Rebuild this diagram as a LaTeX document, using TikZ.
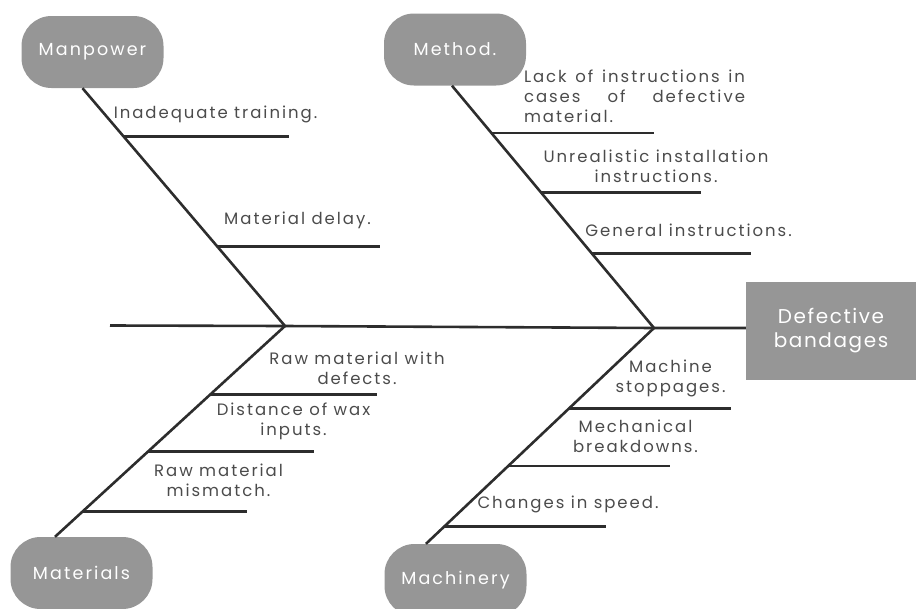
\documentclass[tikz,border=0pt]{standalone}
\usepackage{fontspec}
\setmainfont{Poppins}
\newfontfamily\lblfont{Poppins}[LetterSpace=12]
\newfontfamily\boxfont{Poppins}[LetterSpace=8]
\usetikzlibrary{calc}
\definecolor{pillgray}{RGB}{150,150,150}
\definecolor{txtgray}{RGB}{75,75,75}
\definecolor{linegray}{RGB}{45,45,45}
\begin{document}
\begin{tikzpicture}[x=1pt,y=-1pt,
  pill/.style={fill=pillgray, rounded corners=30pt, minimum width=142pt, minimum height=72pt, text=white, font=\lblfont\fontsize{17.5}{20}\selectfont, inner sep=0pt},
  effectbox/.style={fill=pillgray, minimum width=170pt, minimum height=98pt, text=white, font=\boxfont\fontsize{20}{24}\selectfont, align=center, inner sep=0pt},
  lbl/.style={text=txtgray, font=\lblfont\fontsize{16.5}{20}\selectfont, align=center, inner sep=0pt},
  bone/.style={draw=linegray, line width=2.6pt},
  rib/.style={draw=linegray, line width=2.6pt}]
\useasboundingbox (0,0) rectangle (916,608);
\clip (0,0) rectangle (916,608);
% category pills and effect
\node[pill] (mp) at (92.5,52) {Manpower};
\node[pill] (meth) at (455,49.5) {Method.};
\node[pill] (mat) at (81.5,573) {Materials};
\node[pill] (mach) at (455.5,580) {Machinery};
\node[effectbox] (effect) at (831,331) {Defective\\bandages};
% spine
\coordinate (tail) at (110,325.5);
\coordinate (j1) at (285,326);
\coordinate (j2) at (654,328);
\draw[bone] (tail) -- (j1) -- (j2) -- (j2 -| effect.west);
% bones
\coordinate (a1) at ([xshift=-10pt]mp.south);
\coordinate (a2) at ([xshift=-3pt]meth.south);
\coordinate (a3) at ([xshift=-26.5pt]mat.north);
\coordinate (a4) at ([xshift=-29.5pt]mach.north);
\draw[bone] (a1) -- (j1);
\draw[bone] (a2) -- (j2);
\draw[bone] (j1) -- (a3);
\draw[bone] (j2) -- (a4);
% ribs: Manpower
\coordinate (r11) at ($(a1)!0.2025!(j1)$);
\coordinate (e11) at (289,137);
\coordinate (r12) at ($(a1)!0.6667!(j1)$);
\coordinate (e12) at (380,247);
\draw[rib] (r11) -- (r11 -| e11);
\draw[rib] (r12) -- (r12 -| e12);
% ribs: Method
\coordinate (r21) at ($(a2)!0.1958!(j2)$);
\coordinate (e21) at (654,135);
\coordinate (r22) at ($(a2)!0.4417!(j2)$);
\coordinate (e22) at (701,194);
\coordinate (r23) at ($(a2)!0.6917!(j2)$);
\coordinate (e23) at (751,254);
\draw[rib] (r21) -- (r21 -| e21);
\draw[rib] (r22) -- (r22 -| e22);
\draw[rib] (r23) -- (r23 -| e23);
% ribs: Materials
\coordinate (r31) at ($(j1)!0.3238!(a3)$);
\coordinate (e31) at (377,394);
\coordinate (r32) at ($(j1)!0.5952!(a3)$);
\coordinate (e32) at (314,451);
\coordinate (r33) at ($(j1)!0.8810!(a3)$);
\coordinate (e33) at (247,511);
\draw[rib] (r31) -- (r31 -| e31);
\draw[rib] (r32) -- (r32 -| e32);
\draw[rib] (r33) -- (r33 -| e33);
% ribs: Machinery
\coordinate (r41) at ($(j2)!0.3738!(a4)$);
\coordinate (e41) at (731,408);
\coordinate (r42) at ($(j2)!0.6402!(a4)$);
\coordinate (e42) at (670,465);
\coordinate (r43) at ($(j2)!0.9206!(a4)$);
\coordinate (e43) at (606,525);
\draw[rib] (r41) -- (r41 -| e41);
\draw[rib] (r42) -- (r42 -| e42);
\draw[rib] (r43) -- (r43 -| e43);
% labels
\node[lbl] (l11) at (215.5,114) {Inadequate training.};
\node[lbl] (l12) at (297.5,220) {Material delay.};
\node[lbl, align=left] (l21) at (634.5,96) {\makebox[221pt][s]{Lack of instructions in}\\\makebox[221pt][s]{cases of defective}\\material.};
\node[lbl] (l22) at (656,166) {Unrealistic installation\\instructions.};
\node[lbl] (l23) at (688.5,230) {General instructions.};
\node[lbl] (l31) at (357,368) {Raw material with\\defects.};
\node[lbl] (l32) at (293.5,421) {Distance of wax\\inputs.};
\node[lbl] (l33) at (218.5,480) {Raw material\\mismatch.};
\node[lbl] (l41) at (670.5,378) {Machine\\stoppages.};
\node[lbl] (l42) at (635.5,436) {Mechanical\\breakdowns.};
\node[lbl] (l43) at (568,504) {Changes in speed.};
\end{tikzpicture}
\end{document}
